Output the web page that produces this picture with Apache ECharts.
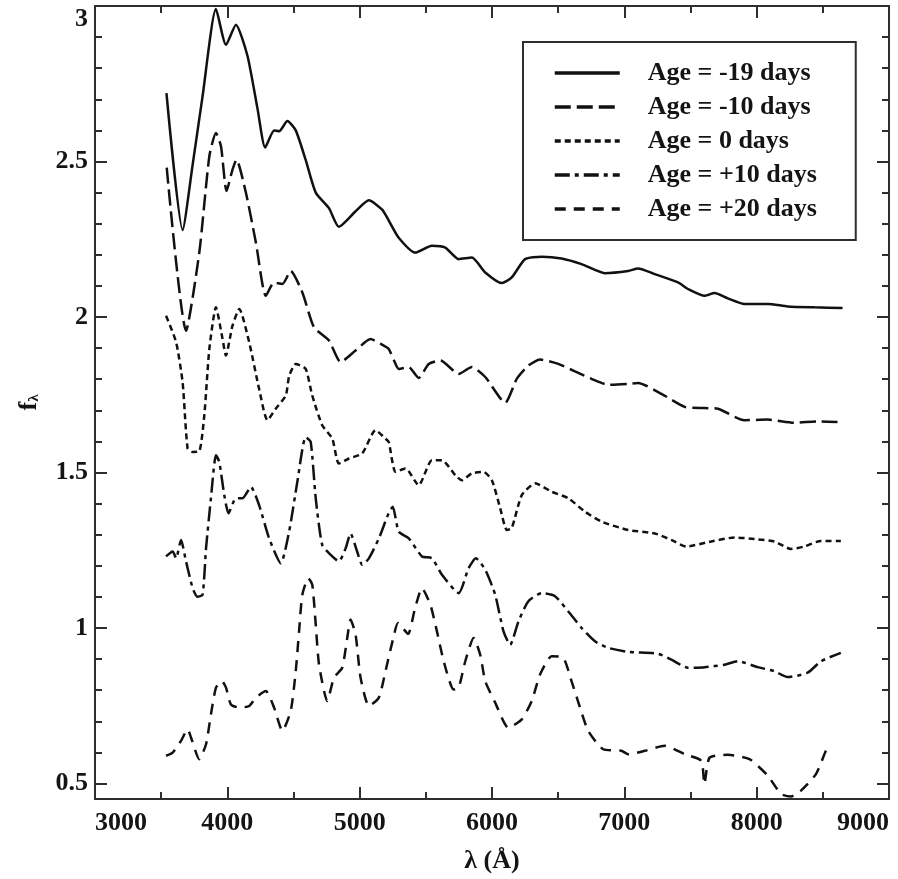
<!DOCTYPE html>
<html>
<head>
<meta charset="utf-8">
<script src="https://cdn.jsdelivr.net/npm/echarts@6/dist/echarts.min.js"></script>
<style>
  html, body { margin: 0; padding: 0; background: #fff; }
  #chart { width: 898px; height: 879px; }
</style>
</head>
<body>
<div id="chart"></div>
<script>
// Spectral templates: wavelength (Å) and flux f_λ for each epoch.
const ageLabels = ['Age = -19 days', 'Age = -10 days', 'Age = 0 days', 'Age = +10 days', 'Age = +20 days'];

const lamM19 = [3540, 3662, 3738, 3813, 3914, 3990, 4065, 4152, 4228, 4286, 4353, 4391, 4454, 4517, 4592, 4668, 4768, 4843, 4969, 5070, 5170, 5220, 5295, 5421, 5546, 5647, 5748, 5848, 5949, 6074, 6149, 6250, 6375, 6526, 6677, 6853, 7029, 7104, 7230, 7406, 7481, 7607, 7682, 7782, 7908, 8084, 8234, 8436, 8649];
const fluxM19 = [2.72, 2.28, 2.49, 2.71, 2.99, 2.875, 2.94, 2.84, 2.67, 2.545, 2.60, 2.597, 2.63, 2.60, 2.505, 2.40, 2.35, 2.29, 2.34, 2.375, 2.345, 2.31, 2.255, 2.207, 2.229, 2.223, 2.186, 2.191, 2.143, 2.109, 2.127, 2.186, 2.194, 2.188, 2.170, 2.141, 2.148, 2.156, 2.138, 2.111, 2.090, 2.068, 2.077, 2.060, 2.042, 2.042, 2.034, 2.031, 2.029];

const lamM10 = [3542, 3688, 3788, 3864, 3914, 3952, 3994, 4039, 4069, 4140, 4216, 4291, 4353, 4416, 4479, 4567, 4655, 4768, 4856, 4969, 5082, 5182, 5220, 5260, 5295, 5371, 5446, 5522, 5610, 5748, 5848, 5949, 6100, 6187, 6275, 6363, 6501, 6627, 6752, 6878, 7029, 7104, 7280, 7456, 7607, 7707, 7908, 8084, 8285, 8461, 8611];
const fluxM10 = [2.48, 1.956, 2.207, 2.517, 2.592, 2.549, 2.405, 2.474, 2.506, 2.40, 2.239, 2.068, 2.111, 2.106, 2.148, 2.079, 1.967, 1.924, 1.855, 1.892, 1.929, 1.908, 1.897, 1.86, 1.833, 1.839, 1.804, 1.849, 1.860, 1.817, 1.839, 1.807, 1.724, 1.801, 1.844, 1.863, 1.849, 1.825, 1.801, 1.782, 1.785, 1.788, 1.753, 1.711, 1.707, 1.705, 1.668, 1.670, 1.660, 1.664, 1.662];

const lam0 = [3537, 3613, 3662, 3700, 3738, 3788, 3826, 3864, 3914, 3964, 3989, 4039, 4090, 4165, 4240, 4303, 4366, 4442, 4467, 4517, 4592, 4640, 4717, 4793, 4843, 4919, 5019, 5120, 5195, 5220, 5271, 5346, 5446, 5546, 5622, 5723, 5772, 5848, 5936, 5999, 6062, 6112, 6149, 6225, 6326, 6451, 6577, 6702, 6828, 7029, 7230, 7355, 7468, 7656, 7833, 7984, 8134, 8259, 8360, 8486, 8636];
const flux0 = [2.004, 1.919, 1.790, 1.577, 1.566, 1.568, 1.684, 1.897, 2.031, 1.929, 1.876, 1.972, 2.026, 1.919, 1.769, 1.668, 1.705, 1.748, 1.81, 1.849, 1.833, 1.75, 1.652, 1.609, 1.529, 1.545, 1.561, 1.636, 1.609, 1.598, 1.502, 1.513, 1.459, 1.539, 1.539, 1.491, 1.475, 1.497, 1.502, 1.475, 1.385, 1.315, 1.321, 1.427, 1.465, 1.438, 1.417, 1.374, 1.342, 1.315, 1.304, 1.283, 1.262, 1.278, 1.291, 1.286, 1.278, 1.254, 1.262, 1.280, 1.280];

const lamP10 = [3537, 3587, 3613, 3650, 3688, 3738, 3775, 3813, 3839, 3876, 3914, 3939, 3977, 4009, 4065, 4115, 4178, 4240, 4316, 4404, 4467, 4529, 4592, 4630, 4668, 4717, 4781, 4843, 4894, 4931, 4981, 5019, 5070, 5145, 5220, 5250, 5295, 5371, 5471, 5546, 5622, 5748, 5823, 5878, 5949, 6024, 6087, 6137, 6200, 6275, 6375, 6476, 6577, 6677, 6778, 6878, 7029, 7255, 7355, 7481, 7607, 7757, 7858, 8008, 8134, 8234, 8385, 8486, 8636];
const fluxP10 = [1.230, 1.246, 1.224, 1.283, 1.214, 1.128, 1.10, 1.107, 1.256, 1.417, 1.555, 1.534, 1.427, 1.369, 1.417, 1.417, 1.454, 1.395, 1.288, 1.208, 1.310, 1.470, 1.614, 1.598, 1.417, 1.267, 1.235, 1.214, 1.256, 1.304, 1.246, 1.203, 1.224, 1.288, 1.37, 1.39, 1.31, 1.288, 1.230, 1.224, 1.171, 1.112, 1.192, 1.224, 1.187, 1.107, 0.989, 0.946, 1.021, 1.086, 1.112, 1.102, 1.053, 1.0, 0.957, 0.936, 0.923, 0.917, 0.898, 0.872, 0.874, 0.882, 0.893, 0.874, 0.861, 0.842, 0.856, 0.893, 0.920];

const lamP20 = [3537, 3587, 3650, 3700, 3726, 3788, 3839, 3876, 3914, 3959, 3990, 4027, 4090, 4165, 4216, 4291, 4353, 4416, 4479, 4517, 4542, 4567, 4612, 4642, 4668, 4693, 4755, 4806, 4868, 4906, 4931, 4969, 5007, 5070, 5145, 5195, 5250, 5290, 5366, 5416, 5471, 5534, 5584, 5635, 5710, 5748, 5798, 5861, 5911, 5949, 6024, 6124, 6225, 6300, 6363, 6451, 6539, 6601, 6665, 6727, 6840, 6978, 7029, 7155, 7305, 7456, 7581, 7605, 7644, 7782, 7946, 8084, 8184, 8260, 8335, 8448, 8523, 8548];
const fluxP20 = [0.589, 0.599, 0.637, 0.674, 0.647, 0.578, 0.626, 0.722, 0.808, 0.829, 0.808, 0.754, 0.744, 0.749, 0.776, 0.797, 0.744, 0.669, 0.733, 0.861, 0.989, 1.107, 1.160, 1.139, 1.011, 0.882, 0.765, 0.840, 0.872, 0.968, 1.027, 0.979, 0.840, 0.749, 0.776, 0.861, 0.96, 1.016, 0.981, 1.059, 1.128, 1.075, 0.989, 0.893, 0.802, 0.808, 0.893, 0.968, 0.914, 0.829, 0.760, 0.679, 0.706, 0.765, 0.850, 0.909, 0.904, 0.829, 0.744, 0.669, 0.610, 0.605, 0.594, 0.605, 0.621, 0.594, 0.573, 0.498, 0.583, 0.592, 0.578, 0.525, 0.466, 0.458, 0.477, 0.530, 0.605, 0.621];

// Axis tick positions
const yMajorTicks = [0.5, 1, 1.5, 2, 2.5, 3];
const yMinorTicks = [0.6, 0.7, 0.8, 0.9, 1.1, 1.2, 1.3, 1.4, 1.6, 1.7, 1.8, 1.9, 2.1, 2.2, 2.3, 2.4, 2.6, 2.7, 2.8, 2.9];

const FONT = '"Liberation Serif", "DejaVu Serif", serif';
const INK = '#141414';
const FRAME = '#2e2e2e';

const curves = [
  { lam: lamM19, flux: fluxM19, dash: 'solid' },
  { lam: lamM10, flux: fluxM10, dash: [16, 6] },
  { lam: lam0,   flux: flux0,   dash: [6, 4] },
  { lam: lamP10, flux: fluxP10, dash: [15, 5, 4, 5] },
  { lam: lamP20, flux: fluxP20, dash: [11, 8] }
];

const labelFont = { fontFamily: FONT, fontSize: 26, fontWeight: 'bold', color: INK };
const lineStyleFrame = { color: FRAME, width: 2 };

function xAxisDef(position, withLabels) {
  return {
    type: 'value', position: position, min: 3000, max: 9000, interval: 1000,
    axisLine: { show: true, onZero: false, lineStyle: lineStyleFrame },
    axisTick: { show: true, inside: true, length: 12, lineStyle: lineStyleFrame },
    minorTick: { show: true, splitNumber: 2, length: 7, lineStyle: lineStyleFrame },
    splitLine: { show: false }, minorSplitLine: { show: false },
    axisLabel: withLabels ? Object.assign({
      show: true, margin: 11, alignMinLabel: 'left', alignMaxLabel: 'right',
      formatter: function (v) { return String(v); }
    }, labelFont) : { show: false },
    name: withLabels ? 'λ (Å)' : '',
    nameLocation: 'middle', nameGap: 49,
    nameTextStyle: labelFont
  };
}

function yAxisDef(position, major, withLabels) {
  const ticks = major ? yMajorTicks : yMinorTicks;
  const def = {
    type: 'value', position: position, min: 0.45, max: 3,
    axisLine: { show: major, onZero: false, lineStyle: lineStyleFrame },
    axisTick: { show: true, inside: true, length: major ? 12 : 7, customValues: ticks, lineStyle: lineStyleFrame },
    splitLine: { show: false },
    axisLabel: { show: false }
  };
  if (withLabels) {
    def.axisLabel = Object.assign({
      show: true, margin: 7, customValues: yMajorTicks,
      verticalAlignMaxLabel: 'top',
      formatter: function (v) { return String(v); }
    }, labelFont);
    def.name = '{f|f}{s|λ}';
    def.nameLocation = 'middle';
    def.nameRotate = 90;
    def.nameGap = 53;
    def.nameTextStyle = {
      rich: {
        f: { fontFamily: FONT, fontSize: 26, fontWeight: 'bold', color: INK, verticalAlign: 'middle' },
        s: { fontFamily: FONT, fontSize: 15, fontWeight: 'bold', color: INK, verticalAlign: 'bottom', padding: [10, 0, 0, 0] }
      }
    };
  }
  return def;
}

const chart = echarts.init(document.getElementById('chart'), null, { renderer: 'canvas' });

chart.setOption({
  backgroundColor: '#fff',
  animation: false,
  grid: { left: 95, top: 6, right: 9, bottom: 78, containLabel: false },
  xAxis: [xAxisDef('bottom', true), xAxisDef('top', false)],
  yAxis: [
    yAxisDef('left', true, true),
    yAxisDef('left', false, false),
    yAxisDef('right', true, false),
    yAxisDef('right', false, false)
  ],
  legend: {
    show: true, orient: 'vertical', left: 523, top: 42,
    padding: [18, 33, 18, 30],
    itemWidth: 65, itemHeight: 20, itemGap: 8,
    backgroundColor: '#fff', borderColor: FRAME, borderWidth: 2, borderRadius: 0,
    lineStyle: { width: 3.5 },
    // line-only keys: hide the marker that line series put on their legend icon
    itemStyle: { color: 'transparent', borderWidth: 0, opacity: 0 },
    textStyle: Object.assign({ lineHeight: 26, width: 175, padding: [0, 0, 0, 23] }, labelFont),
    data: ageLabels
  },
  series: curves.map(function (c, i) {
    return {
      name: ageLabels[i],
      type: 'line',
      xAxisIndex: 0, yAxisIndex: 0,
      data: c.lam.map(function (x, k) { return [x, c.flux[k]]; }),
      showSymbol: false, symbol: 'none',
      smooth: 0.2,
      lineStyle: { color: '#111', width: 2.5, type: c.dash },
      itemStyle: { color: '#111' },
      emphasis: { disabled: true },
      z: 3
    };
  })
});
</script>
</body>
</html>
